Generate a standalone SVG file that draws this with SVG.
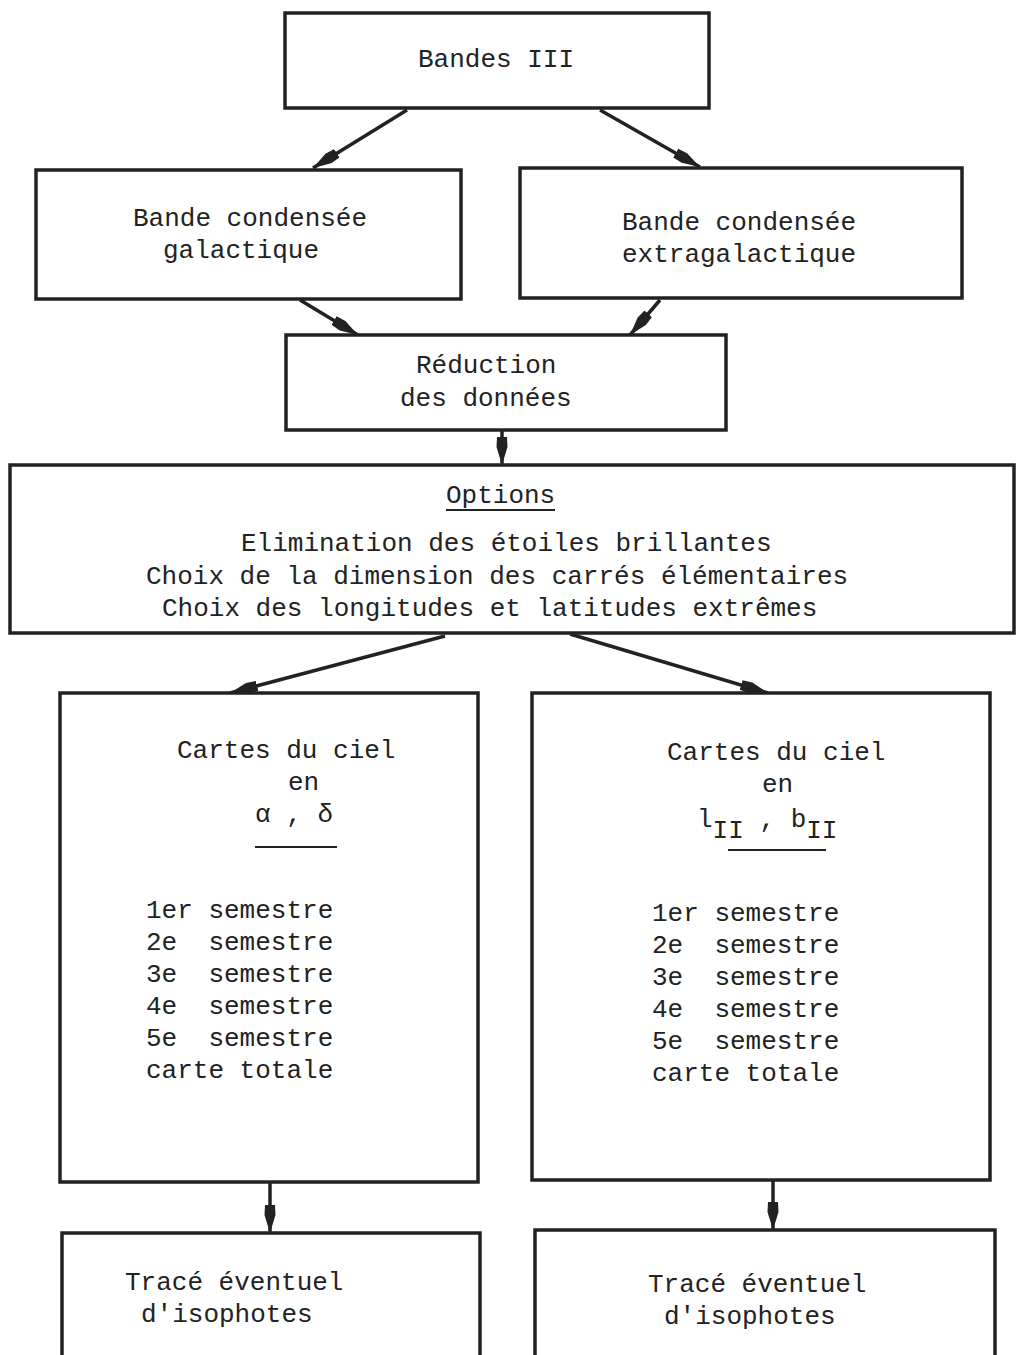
<svg xmlns="http://www.w3.org/2000/svg" width="1016" height="1355" viewBox="0 0 1016 1355">
<style>
.box{fill:#fff;stroke:#222;stroke-width:3.5}
.t{font-family:"Liberation Mono","DejaVu Sans Mono",monospace;font-size:26px;fill:#222}
.c{stroke:#222;stroke-width:3.5;fill:none;marker-end:url(#ah)}
.u{stroke:#222;stroke-width:2}
</style>
<defs>
<marker id="ah" markerUnits="userSpaceOnUse" markerWidth="30" markerHeight="16" refX="28" refY="8" orient="auto">
<path d="M0,3 L10,2.5 L28,8 L10,13.5 L0,13 Z" fill="#222"/>
</marker>
</defs>
<rect width="1016" height="1355" fill="#fff"/>
<g id="connectors">
<line class="c" x1="407" y1="110" x2="313" y2="168"/>
<line class="c" x1="600" y1="110" x2="700" y2="167"/>
<line class="c" x1="300" y1="300" x2="358" y2="335"/>
<line class="c" x1="660" y1="300" x2="630" y2="335"/>
<line class="c" x1="502" y1="431" x2="502" y2="465"/>
<line class="c" x1="445" y1="636" x2="230" y2="693"/>
<line class="c" x1="570" y1="634" x2="768" y2="693"/>
<line class="c" x1="270" y1="1182" x2="270" y2="1233"/>
<line class="c" x1="773" y1="1180" x2="773" y2="1230"/>
</g>
<g id="n-bandes">
<rect class="box" x="285" y="13" width="424" height="95"/>
<text class="t" x="418" y="67">Bandes III</text>
</g>
<g id="n-galactique">
<rect class="box" x="36" y="170" width="425" height="129"/>
<text class="t" x="133" y="226">Bande condensée</text>
<text class="t" x="163" y="258">galactique</text>
</g>
<g id="n-extragalactique">
<rect class="box" x="520" y="168" width="442" height="130"/>
<text class="t" x="622" y="230">Bande condensée</text>
<text class="t" x="622" y="262">extragalactique</text>
</g>
<g id="n-reduction">
<rect class="box" x="286" y="335" width="440" height="95"/>
<text class="t" x="416" y="373">Réduction</text>
<text class="t" x="400" y="406">des données</text>
</g>
<g id="n-options">
<rect class="box" x="10" y="465" width="1004" height="168"/>
<text class="t" x="446" y="503">Options</text>
<line class="u" x1="446" y1="510" x2="555" y2="510"/>
<text class="t" x="241" y="551">Elimination des étoiles brillantes</text>
<text class="t" x="146" y="584">Choix de la dimension des carrés élémentaires</text>
<text class="t" x="162" y="616">Choix des longitudes et latitudes extrêmes</text>
</g>
<g id="n-cartes-ad">
<rect class="box" x="60" y="693" width="418" height="489"/>
<text class="t" x="177" y="758">Cartes du ciel</text>
<text class="t" x="288" y="790">en</text>
<text class="t" x="255" y="822">α , δ</text>
<line class="u" x1="255" y1="847" x2="337" y2="847"/>
<text class="t" x="146" y="918" xml:space="preserve">1er semestre</text>
<text class="t" x="146" y="950" xml:space="preserve">2e  semestre</text>
<text class="t" x="146" y="982" xml:space="preserve">3e  semestre</text>
<text class="t" x="146" y="1014" xml:space="preserve">4e  semestre</text>
<text class="t" x="146" y="1046" xml:space="preserve">5e  semestre</text>
<text class="t" x="146" y="1078">carte totale</text>
</g>
<g id="n-cartes-lb">
<rect class="box" x="532" y="693" width="458" height="487"/>
<text class="t" x="667" y="760">Cartes du ciel</text>
<text class="t" x="762" y="792">en</text>
<text class="t" x="697" y="827">l<tspan dy="11">II</tspan><tspan dy="-11"> , b</tspan><tspan dy="11">II</tspan></text>
<line class="u" x1="728" y1="850" x2="826" y2="850"/>
<text class="t" x="652" y="921" xml:space="preserve">1er semestre</text>
<text class="t" x="652" y="953" xml:space="preserve">2e  semestre</text>
<text class="t" x="652" y="985" xml:space="preserve">3e  semestre</text>
<text class="t" x="652" y="1017" xml:space="preserve">4e  semestre</text>
<text class="t" x="652" y="1049" xml:space="preserve">5e  semestre</text>
<text class="t" x="652" y="1081">carte totale</text>
</g>
<g id="n-trace-left">
<rect class="box" x="62" y="1233" width="418" height="140"/>
<text class="t" x="125" y="1290">Tracé éventuel</text>
<text class="t" x="141" y="1322">d'isophotes</text>
</g>
<g id="n-trace-right">
<rect class="box" x="535" y="1230" width="460" height="140"/>
<text class="t" x="648" y="1292">Tracé éventuel</text>
<text class="t" x="664" y="1324">d'isophotes</text>
</g>
</svg>
